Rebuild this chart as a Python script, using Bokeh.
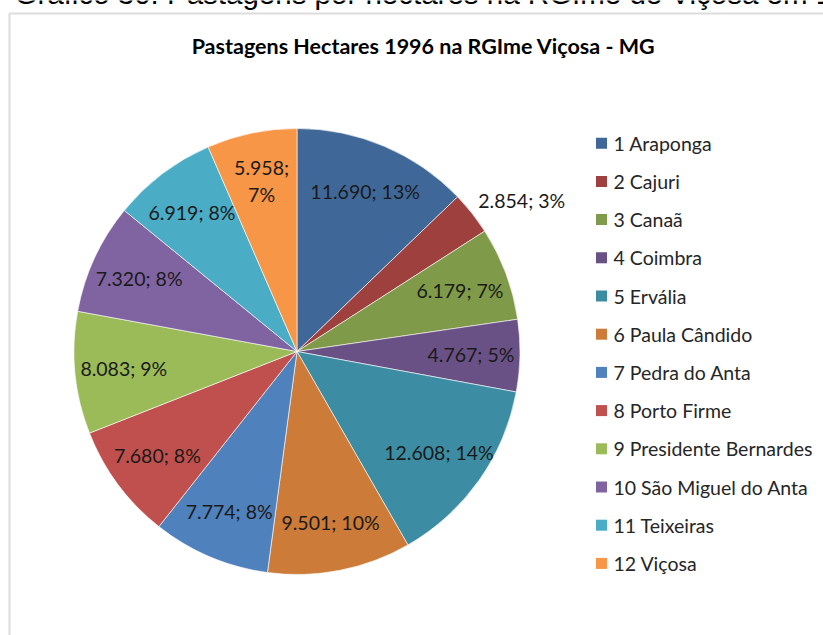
import math
from bokeh.plotting import figure
from bokeh.models import ColumnDataSource, Range1d, BoxAnnotation
from bokeh.core.properties import value
from bokeh.embed import file_html
from bokeh.resources import INLINE

# ---------------- data ----------------
heading = "Gráfico 30: Pastagens por hectares na RGIme de Viçosa em 1996"
title = "Pastagens Hectares 1996 na RGIme Viçosa - MG"
names = ["1 Araponga", "2 Cajuri", "3 Canaã", "4 Coimbra", "5 Ervália",
         "6 Paula Cândido", "7 Pedra do Anta", "8 Porto Firme",
         "9 Presidente Bernardes", "10 São Miguel do Anta", "11 Teixeiras",
         "12 Viçosa"]
values = [11690, 2854, 6179, 4767, 12608, 9501, 7774, 7680, 8083, 7320, 6919, 5958]
value_text = ["11.690", "2.854", "6.179", "4.767", "12.608", "9.501",
              "7.774", "7.680", "8.083", "7.320", "6.919", "5.958"]
pct_text = ["13%", "3%", "7%", "5%", "14%", "10%", "8%", "8%", "9%", "8%", "8%", "7%"]
colors = ["#3F6899", "#9E413E", "#7F9A48", "#695185", "#3C8DA3", "#CC7B38",
          "#4F81BD", "#C0504D", "#9BBB59", "#8064A2", "#4BACC6", "#F79646"]
label_outside = [False, True, False, False, False, False,
                 False, False, False, False, False, False]
label_wrapped = [False] * 11 + [True]

# ---------------- layout (1 data unit = 1 px, y up) ----------------
W, H = 823, 635
CX, CY, R = 296.5, 284.0, 223.0
R_LABEL = 174.0

total = float(sum(values))
starts, ends, mids = [], [], []
cum = 0.0
for v in values:
    a0 = math.pi / 2 - 2 * math.pi * cum / total
    cum += v
    a1 = math.pi / 2 - 2 * math.pi * cum / total
    starts.append(a0)
    ends.append(a1)
    mids.append((a0 + a1) / 2)

src = ColumnDataSource(dict(start=starts, end=ends, color=colors, name=names))

p = figure(width=W, height=H, output_backend="svg", toolbar_location=None,
           x_range=Range1d(0, W), y_range=Range1d(0, H),
           x_axis_location=None, y_axis_location=None,
           min_border=0, min_border_left=0, min_border_right=0,
           min_border_top=0, min_border_bottom=0, title=None)
p.grid.visible = False
p.outline_line_color = None
p.background_fill_color = "white"
p.border_fill_color = "white"

# chart box border (top and left edges visible)
p.add_layout(BoxAnnotation(left=9, right=W + 30, top=H - 13, bottom=-30,
                           fill_color=None, fill_alpha=0,
                           line_color="#8a8a8a", line_width=2))

# pie
p.wedge(x=CX, y=CY, radius=R, start_angle="start", end_angle="end",
        direction="clock", fill_color="color", line_color="white",
        line_width=1, line_alpha=0.6, source=src)

# data labels
in_x, in_y, in_t = [], [], []
out_x, out_y, out_t = [], [], []
for i in range(len(values)):
    sep = ";\n" if label_wrapped[i] else "; "
    t = value_text[i] + sep + pct_text[i]
    m = mids[i]
    if label_outside[i]:
        out_x.append(CX + (R + 8) * math.cos(m))
        out_y.append(CY + (R + 8) * math.sin(m))
        out_t.append(t)
    else:
        in_x.append(CX + R_LABEL * math.cos(m))
        in_y.append(CY + R_LABEL * math.sin(m))
        in_t.append(t)

p.text(x=in_x, y=in_y, text=in_t, text_align="center", text_baseline="middle",
       text_font=value("Lato"), text_font_size="19.5px", text_color="#1a1a1a")
p.text(x=out_x, y=out_y, text=out_t, text_align="left", text_baseline="bottom",
       y_offset=4, text_font=value("Lato"), text_font_size="19.5px",
       text_color="#1a1a1a")

# legend
LEG_X, LEG_TOP, LEG_STEP = 601.0, H - 142.7, 38.2
leg_y = [LEG_TOP - i * LEG_STEP for i in range(len(names))]
p.rect(x=[LEG_X] * len(names), y=leg_y, width=11, height=11,
       fill_color=colors, line_color=None)
p.text(x=[LEG_X + 12] * len(names), y=leg_y, text=names, text_align="left",
       text_baseline="middle", text_font=value("Lato"), text_font_size="19.5px",
       text_color="#262626")

# chart title
p.text(x=[423], y=[H - 45], text=[title], text_align="center", text_baseline="middle",
       text_font=value("Lato"), text_font_style="bold", text_font_size="21.5px",
       text_color="#000000")

# document heading (cut off at the top of the page)
p.text(x=[14], y=[H + 7], text=[heading], text_align="left", text_baseline="alphabetic",
       text_font=value("Liberation Sans"), text_font_size="29.5px",
       text_color="#000000")

open("out.html", "w").write(file_html(p, INLINE))
